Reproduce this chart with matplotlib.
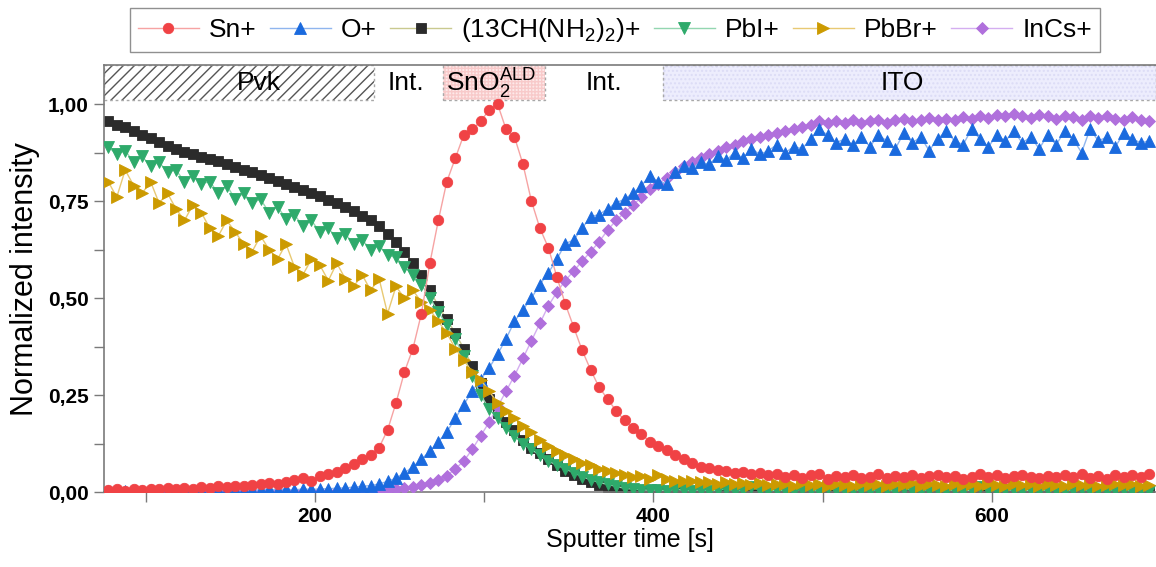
import numpy as np
import matplotlib.pyplot as plt
from matplotlib.patches import Rectangle
from matplotlib.ticker import FuncFormatter, MultipleLocator

plt.rcParams['font.family'] = ['Liberation Sans', 'DejaVu Sans']
plt.rcParams['mathtext.default'] = 'regular'
plt.rcParams['hatch.linewidth'] = 1.0

# Время распыления, с (шаг 5 с)
time = np.arange(78, 694, 5)

sn = [0.005, 0.007, 0.004, 0.008, 0.006, 0.009, 0.007, 0.010, 0.008, 0.011,
      0.009, 0.013, 0.011, 0.015, 0.013, 0.017, 0.016, 0.019, 0.021, 0.024,
      0.021, 0.027, 0.031, 0.036, 0.030, 0.041, 0.046, 0.052, 0.062, 0.072,
      0.085, 0.097, 0.115, 0.160, 0.230, 0.310, 0.370, 0.460, 0.590, 0.700,
      0.800, 0.860, 0.920, 0.935, 0.955, 0.985, 1.000, 0.935, 0.915, 0.845,
      0.750, 0.680, 0.630, 0.555, 0.485, 0.425, 0.365, 0.315, 0.270, 0.240,
      0.210, 0.185, 0.165, 0.150, 0.130, 0.120, 0.108, 0.095, 0.085, 0.075,
      0.066, 0.062, 0.057, 0.054, 0.049, 0.052, 0.046, 0.050, 0.043, 0.047,
      0.040, 0.045, 0.037, 0.044, 0.047, 0.035, 0.041, 0.038, 0.044, 0.036,
      0.040, 0.046, 0.037, 0.042, 0.039, 0.045, 0.036, 0.041, 0.044, 0.038,
      0.042, 0.035, 0.040, 0.046, 0.038, 0.043, 0.037, 0.041, 0.045, 0.039,
      0.036, 0.042, 0.038, 0.044, 0.040, 0.046, 0.037, 0.041, 0.035, 0.043,
      0.039, 0.044, 0.040, 0.046]

o_plus = [0.003, 0.004, 0.002, 0.004, 0.003, 0.005, 0.003, 0.004, 0.004, 0.005,
          0.004, 0.005, 0.004, 0.006, 0.005, 0.005, 0.006, 0.005, 0.006, 0.007,
          0.006, 0.007, 0.006, 0.008, 0.007, 0.008, 0.009, 0.010, 0.011, 0.013,
          0.015, 0.017, 0.021, 0.028, 0.036, 0.050, 0.065, 0.085, 0.105, 0.130,
          0.155, 0.190, 0.225, 0.260, 0.290, 0.320, 0.355, 0.395, 0.440, 0.470,
          0.500, 0.535, 0.565, 0.600, 0.640, 0.650, 0.680, 0.710, 0.715, 0.730,
          0.745, 0.755, 0.770, 0.790, 0.815, 0.800, 0.795, 0.825, 0.840, 0.835,
          0.850, 0.845, 0.865, 0.855, 0.875, 0.860, 0.885, 0.870, 0.880, 0.895,
          0.875, 0.890, 0.885, 0.910, 0.935, 0.920, 0.900, 0.910, 0.895, 0.915,
          0.890, 0.920, 0.905, 0.885, 0.925, 0.900, 0.915, 0.880, 0.910, 0.930,
          0.905, 0.895, 0.935, 0.910, 0.890, 0.920, 0.905, 0.930, 0.900, 0.915,
          0.885, 0.920, 0.895, 0.930, 0.910, 0.875, 0.935, 0.905, 0.915, 0.890,
          0.925, 0.910, 0.900, 0.905]

fa = [0.955, 0.945, 0.940, 0.930, 0.920, 0.912, 0.902, 0.892, 0.884, 0.876,
      0.870, 0.864, 0.858, 0.852, 0.845, 0.838, 0.830, 0.825, 0.818, 0.810,
      0.802, 0.795, 0.787, 0.778, 0.770, 0.762, 0.753, 0.745, 0.735, 0.725,
      0.712, 0.700, 0.685, 0.665, 0.645, 0.620, 0.590, 0.560, 0.520, 0.480,
      0.445, 0.410, 0.370, 0.325, 0.280, 0.240, 0.205, 0.180, 0.160, 0.135,
      0.115, 0.100, 0.085, 0.070, 0.055, 0.045, 0.035, 0.025, 0.018, 0.012,
      0.008, 0.005, 0.004, 0.003, 0.003, 0.002, 0.003, 0.002, 0.002, 0.002,
      0.002, 0.003, 0.002, 0.002, 0.003, 0.002, 0.002, 0.003, 0.002, 0.002,
      0.002, 0.003, 0.002, 0.002, 0.003, 0.002, 0.002, 0.003, 0.002, 0.002,
      0.002, 0.003, 0.002, 0.002, 0.003, 0.002, 0.002, 0.003, 0.002, 0.002,
      0.002, 0.003, 0.002, 0.002, 0.003, 0.002, 0.002, 0.003, 0.002, 0.002,
      0.002, 0.003, 0.002, 0.002, 0.003, 0.002, 0.002, 0.003, 0.002, 0.002,
      0.002, 0.003, 0.002, 0.002]

pbi = [0.890, 0.870, 0.880, 0.850, 0.865, 0.840, 0.850, 0.825, 0.830, 0.800,
       0.815, 0.795, 0.800, 0.770, 0.790, 0.755, 0.770, 0.745, 0.755, 0.720,
       0.735, 0.705, 0.715, 0.685, 0.700, 0.670, 0.680, 0.655, 0.665, 0.640,
       0.650, 0.625, 0.635, 0.610, 0.605, 0.580, 0.560, 0.535, 0.500, 0.465,
       0.430, 0.395, 0.350, 0.300, 0.250, 0.215, 0.190, 0.165, 0.145, 0.125,
       0.110, 0.095, 0.080, 0.070, 0.060, 0.050, 0.040, 0.032, 0.025, 0.020,
       0.015, 0.010, 0.008, 0.006, 0.005, 0.006, 0.004, 0.007, 0.005, 0.004,
       0.006, 0.004, 0.005, 0.008, 0.004, 0.005, 0.012, 0.006, 0.004, 0.005,
       0.005, 0.004, 0.007, 0.005, 0.004, 0.010, 0.005, 0.004, 0.006, 0.005,
       0.004, 0.006, 0.005, 0.004, 0.008, 0.005, 0.004, 0.006, 0.005, 0.004,
       0.006, 0.004, 0.005, 0.012, 0.005, 0.004, 0.006, 0.005, 0.004, 0.005,
       0.004, 0.006, 0.005, 0.004, 0.005, 0.007, 0.004, 0.005, 0.004, 0.006,
       0.005, 0.004, 0.005, 0.004]

pbbr = [0.800, 0.760, 0.830, 0.790, 0.770, 0.800, 0.745, 0.770, 0.730, 0.700,
        0.740, 0.720, 0.680, 0.660, 0.700, 0.670, 0.640, 0.620, 0.660, 0.625,
        0.600, 0.640, 0.580, 0.560, 0.600, 0.585, 0.545, 0.590, 0.550, 0.530,
        0.560, 0.520, 0.550, 0.460, 0.530, 0.500, 0.520, 0.490, 0.470, 0.440,
        0.410, 0.370, 0.340, 0.310, 0.290, 0.260, 0.230, 0.210, 0.190, 0.170,
        0.155, 0.135, 0.120, 0.105, 0.095, 0.085, 0.075, 0.070, 0.060, 0.055,
        0.050, 0.045, 0.040, 0.042, 0.035, 0.045, 0.035, 0.030, 0.028, 0.030,
        0.025, 0.027, 0.022, 0.025, 0.020, 0.023, 0.019, 0.024, 0.018, 0.022,
        0.020, 0.017, 0.023, 0.018, 0.021, 0.016, 0.022, 0.019, 0.017, 0.021,
        0.018, 0.022, 0.016, 0.020, 0.019, 0.023, 0.017, 0.020, 0.018, 0.016,
        0.021, 0.018, 0.020, 0.017, 0.022, 0.019, 0.016, 0.021, 0.018, 0.020,
        0.017, 0.021, 0.019, 0.016, 0.020, 0.018, 0.022, 0.017, 0.019, 0.021,
        0.018, 0.020, 0.017, 0.019]

incs = [0.001, 0.001, 0.001, 0.001, 0.001, 0.001, 0.001, 0.001, 0.001, 0.001,
        0.001, 0.001, 0.001, 0.001, 0.001, 0.001, 0.001, 0.001, 0.001, 0.001,
        0.001, 0.001, 0.001, 0.001, 0.001, 0.001, 0.001, 0.002, 0.002, 0.002,
        0.002, 0.003, 0.004, 0.005, 0.007, 0.010, 0.013, 0.018, 0.024, 0.032,
        0.042, 0.060, 0.080, 0.110, 0.145, 0.180, 0.220, 0.260, 0.300, 0.345,
        0.390, 0.435, 0.480, 0.515, 0.545, 0.570, 0.595, 0.620, 0.645, 0.675,
        0.700, 0.720, 0.740, 0.760, 0.780, 0.795, 0.810, 0.825, 0.840, 0.850,
        0.860, 0.870, 0.880, 0.890, 0.895, 0.905, 0.910, 0.915, 0.920, 0.925,
        0.930, 0.935, 0.940, 0.945, 0.955, 0.950, 0.955, 0.950, 0.958, 0.952,
        0.955, 0.960, 0.952, 0.958, 0.962, 0.955, 0.960, 0.965, 0.958, 0.962,
        0.960, 0.966, 0.962, 0.970, 0.965, 0.972, 0.968, 0.975, 0.970, 0.965,
        0.972, 0.968, 0.962, 0.970, 0.966, 0.960, 0.968, 0.964, 0.970, 0.962,
        0.958, 0.966, 0.960, 0.955]

# Слои структуры (границы по времени, с)
layer_names = ['Pvk', 'Int.', 'SnO$_2^{ALD}$', 'Int.', 'ITO']
layer_edges = [75.5, 235, 275.5, 336, 406, 697]
layer_text_x = [167, 254, 304, 371, 547]

fig = plt.figure(figsize=(11.56, 5.67), dpi=100)
ax = fig.add_axes([0.09, 0.132, 0.91, 0.753])

# (метка, данные, маркер, цвет маркера, цвет линии, размер, zorder)
series = [
    ('Sn+', sn, 'o', '#f04245', '#f6a3a3', 7.5, 6),
    ('O+', o_plus, '^', '#1a6ade', '#8fb5ee', 8.5, 4),
    ('(13CH(NH$_2$)$_2$)+', fa, 's', '#2b2b2b', '#c9c98f', 6.5, 2),
    ('PbI+', pbi, 'v', '#2eaa6b', '#93d6b0', 8.5, 4.5),
    ('PbBr+', pbbr, '>', '#cc9a00', '#e8c973', 8.5, 5),
    ('InCs+', incs, 'D', '#b070dc', '#d4aef0', 6.5, 3),
]

for label, vals, mk, mc, lc, ms, z in series:
    ax.plot(time, vals, color=lc, lw=1.0, marker=mk, ms=ms,
            mfc=mc, mec=mc, mew=0.6, label=label, zorder=z)

# Полоса со слоями сверху
band_lo, band_hi = 1.01, 1.10
ax.add_patch(Rectangle((layer_edges[0], band_lo), layer_edges[1] - layer_edges[0],
                       band_hi - band_lo, facecolor='white', edgecolor='#555555',
                       hatch='///', lw=0, zorder=1))
ax.add_patch(Rectangle((layer_edges[2], band_lo), layer_edges[3] - layer_edges[2],
                       band_hi - band_lo, facecolor='#fde9e9', edgecolor='#f8caca',
                       hatch='+++++', lw=0, zorder=1))
ax.add_patch(Rectangle((layer_edges[4], band_lo), layer_edges[5] - layer_edges[4],
                       band_hi - band_lo, facecolor='#ededfd', edgecolor='#dcdcf6',
                       hatch='....', lw=0, zorder=1))
for i in (0, 2, 4):
    ax.add_patch(Rectangle((layer_edges[i], band_lo), layer_edges[i + 1] - layer_edges[i],
                           band_hi - band_lo, fill=False, edgecolor='#a8a8a8',
                           lw=1.0, ls=(0, (2, 2)), zorder=1.5))

for name, xt in zip(layer_names, layer_text_x):
    ax.text(xt, 1.053, name, ha='center', va='center', fontsize=19, zorder=7)

ax.set_xlim(75.5, 697)
ax.set_ylim(0, 1.10)

ax.xaxis.set_major_locator(MultipleLocator(200))
ax.xaxis.set_minor_locator(MultipleLocator(100))
ax.yaxis.set_major_locator(MultipleLocator(0.25))
ax.yaxis.set_minor_locator(MultipleLocator(0.125))
ax.yaxis.set_major_formatter(FuncFormatter(lambda v, p: f'{v:.2f}'.replace('.', ',') if v <= 1.0 else ''))
ax.xaxis.set_major_formatter(FuncFormatter(lambda v, p: f'{v:.0f}'))

ax.tick_params(which='both', direction='out', length=7, width=1, color='#7a7a7a',
               labelsize=15, pad=4)
for lab in ax.get_xticklabels() + ax.get_yticklabels():
    lab.set_fontweight('bold')

for s in ('left', 'bottom', 'top'):
    ax.spines[s].set_color('#7a7a7a')
    ax.spines[s].set_linewidth(1.2)
ax.spines['right'].set_visible(False)

ax.set_xlabel('Sputter time [s]', fontsize=18, labelpad=1)
ax.set_ylabel('Normalized intensity', fontsize=22, labelpad=6)

fig.legend(loc='upper center', bbox_to_anchor=(0.532, 0.986), ncol=6,
           fontsize=19, frameon=True, fancybox=False, edgecolor='#909090',
           handlelength=2.3, handletextpad=0.4, columnspacing=0.5,
           borderpad=0.3, borderaxespad=0, framealpha=1)

fig.savefig('out.png', dpi=100)
